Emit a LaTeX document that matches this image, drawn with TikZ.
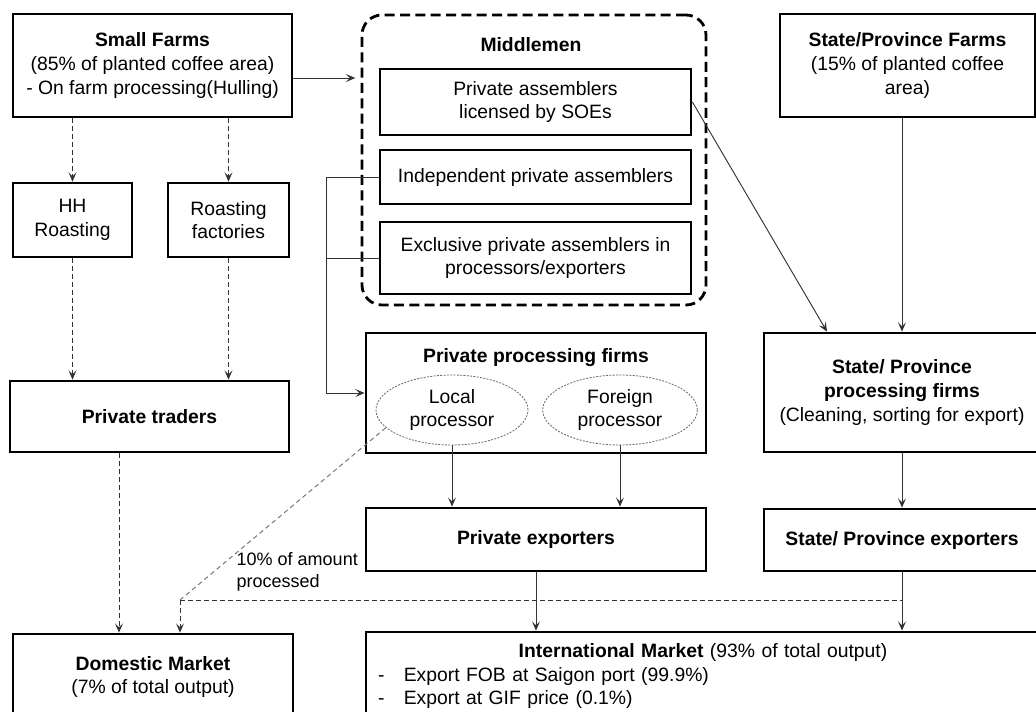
\documentclass[tikz,border=0pt]{standalone}
\usepackage{fontspec}
\setmainfont{Liberation Sans}
\usetikzlibrary{arrows.meta,shapes.geometric}

\begin{document}
\begin{tikzpicture}[x=0.75pt,y=-0.75pt,
  font=\fontsize{14.5}{17.7}\selectfont,
  box/.style={draw, line width=2.1pt, align=center, inner sep=2pt},
  procell/.style={ellipse, draw=black!60, dash pattern=on 1.5pt off 1pt, line width=0.6pt, inner sep=0pt, align=center},
  arr/.style={draw=black!80, line width=0.7pt, -{Stealth[length=7pt,width=6pt,inset=3pt]}},
  darr/.style={arr, dash pattern=on 3.5pt off 2.5pt},
  dline/.style={draw=black!80, line width=0.7pt, dash pattern=on 3.5pt off 2.5pt}]
	\useasboundingbox (0,0) rectangle (1036,711);
	\clip (0,0) rectangle (1036,711);
	\fill[white] (0,0) rectangle (1036,711);

	% farms
	\node[box, minimum width=209.25pt, minimum height=77.25pt] (small) at (152.5,65.5) {\textbf{Small Farms}\\(85\% of planted coffee area)\\- On farm processing(Hulling)};
	\node[box, minimum width=191.25pt, minimum height=77.25pt] (statefarms) at (907.5,65.5) {\textbf{State/Province Farms}\\(15\% of planted coffee\\area)};

	% middlemen
	\node[draw, line width=2.1pt, dash pattern=on 7.5pt off 4pt, rounded corners=15pt, minimum width=258pt, minimum height=217.5pt] (mid) at (534,160) {};
	\node (midtitle) at (531,45) {\textbf{Middlemen}};
	\node[box, minimum width=233.25pt, minimum height=49.5pt] (licensed) at (535.5,102) {Private assemblers\\licensed by SOEs};
	\node[box, minimum width=233.25pt, minimum height=40.5pt] (indep) at (535.5,177) {Independent private assemblers};
	\node[box, minimum width=233.25pt, minimum height=54pt] (excl) at (535.5,258) {Exclusive private assemblers in\\processors/exporters};

	% roasting and traders
	\node[box, minimum width=89.25pt, minimum height=55.5pt] (hh) at (72.5,220) {HH\\Roasting};
	\node[box, minimum width=90.75pt, minimum height=55.5pt] (roastf) at (228.5,220) {Roasting\\factories};
	\node[box, minimum width=209.25pt, minimum height=53.25pt] (traders) at (149.5,416.5) {\textbf{Private traders}};

	% processing
	\node[box, minimum width=255pt, minimum height=90pt] (privproc) at (536,393) {};
	\node (privtitle) at (536,358) {\textbf{Private processing firms}};
	\node[procell, minimum width=114pt, minimum height=52.5pt] (local) at (452,410) {Local\\processor};
	\node[procell, minimum width=116pt, minimum height=52.5pt] (foreign) at (620,410) {Foreign\\processor};
	\node[box, minimum width=207pt, minimum height=89.25pt] (stateproc) at (902,392.5) {\textbf{State/ Province}\\\textbf{processing firms}\\(Cleaning, sorting for export)};

	% exporters
	\node[box, minimum width=255pt, minimum height=47.25pt] (privexp) at (536,539.5) {\textbf{Private exporters}};
	\node[box, minimum width=207pt, minimum height=46.5pt] (stateexp) at (902,540) {\textbf{State/ Province exporters}};

	% markets
	\node[box, minimum width=210pt, minimum height=64.5pt] (domestic) at (153,677) {\textbf{Domestic Market}\\(7\% of total output)};
	\node[box, minimum width=505.5pt, minimum height=66pt, text width=487.5pt, align=left] (intl) at (703,676) {\hfill\textbf{International Market} (93\% of total output)\hfill\null\\-\quad Export FOB at Saigon port (99.9\%)\\-\quad Export at GIF price (0.1\%)};

	% connectors
	\draw[arr, shorten >=4pt] (small.east |- 0,78) -- (mid.west |- 0,78);
	\draw[darr] (small.south -| hh.north) -- (hh.north);
	\draw[darr] (small.south -| roastf.north) -- (roastf.north);
	\draw[darr] (hh.south) -- (hh.south |- traders.north);
	\draw[darr] (roastf.south) -- (roastf.south |- traders.north);
	\draw[darr] (119,0 |- traders.south) -- (119,0 |- domestic.north);
	\draw[arr] (licensed.east) -- (827,0 |- stateproc.north);
	\draw[arr] (statefarms.south -| stateproc.north) -- (stateproc.north);
	\draw[arr] (stateproc.south) -- (stateexp.north);
	\draw[arr] (indep.west) -- ++(-52,0) |- (privproc.west);
	\draw[draw=black!80, line width=0.7pt] (excl.west) -- ++(-52,0);
	\draw[arr] (local.south) -- (local.south |- privexp.north);
	\draw[arr] (foreign.south) -- (foreign.south |- privexp.north);
	\draw[arr] (privexp.south) -- (privexp.south |- intl.north);
	\draw[arr] (stateexp.south) -- (stateexp.south |- intl.north);

	\coordinate (split) at (180,600);
	\draw[dline, draw=black!55] (local.195) -- (split);
	\draw[darr] (split) -- (split |- domestic.north);
	\draw[dline] (split) -- (stateexp.south |- split);
	\node[anchor=west, align=left, font=\fontsize{13.5}{16.5}\selectfont] (pct) at (232,572) {10\% of amount\\processed};
\end{tikzpicture}
\end{document}
